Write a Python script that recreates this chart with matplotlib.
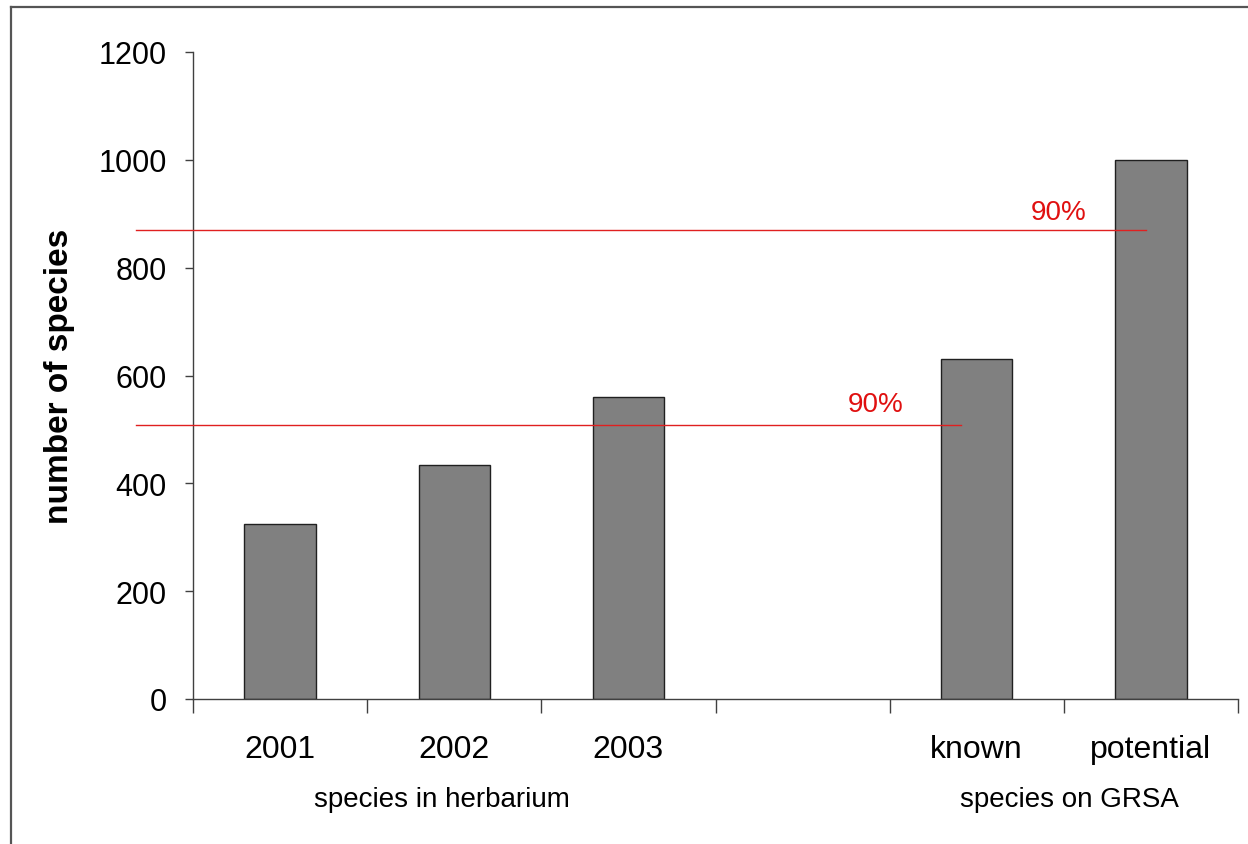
import numpy as np
import matplotlib
matplotlib.use('Agg')
import matplotlib.pyplot as plt
from matplotlib.lines import Line2D

plt.rcParams['font.family'] = ['Liberation Sans', 'DejaVu Sans']

# 数据
categories = ['2001', '2002', '2003', '', 'known', 'potential']
values = [325, 434, 560, np.nan, 630, 1000]
group_labels = ['species in herbarium', 'species on GRSA']
group_centers = [0.93, 4.53]
# 90% 参考线: (高度, 终点x, 文字x, 文字y)
ref_lines = [(508, 3.91, 3.42, 547), (870, 4.97, 4.47, 903)]
ref_text = '90%'

fig = plt.figure(figsize=(12.48, 8.45), dpi=100)
ax = fig.add_axes([193 / 1248, 1 - 700 / 845, 1045 / 1248, 647 / 845])

x = np.arange(len(categories))
ax.bar(x, values, width=0.41, color='#808080', edgecolor='#202020', linewidth=1.0, zorder=2)

# 红线从y轴左边一点开始
for y, x_end, tx, ty in ref_lines:
    ax.plot([-0.83, x_end], [y, y], color='#e02020', linewidth=1.0, zorder=3, clip_on=False)
    ax.text(tx, ty, ref_text, color='#e01010', fontsize=20, ha='center', va='center')

ax.set_xlim(-0.5, 5.5)
ax.set_ylim(0, 1200)
ax.set_yticks(range(0, 1201, 200))
ax.tick_params(axis='y', labelsize=22, length=6, width=1, color='#404040', pad=13)

ax.set_xticks(np.arange(-0.5, 5.6, 1))
ax.set_xticklabels([])
ax.tick_params(axis='x', which='major', length=10, width=1, color='#404040')
ax.set_xticks(x, minor=True)
ax.set_xticklabels(categories, minor=True)
ax.tick_params(axis='x', which='minor', length=0, labelsize=23, pad=25)

for s in ['top', 'right']:
    ax.spines[s].set_visible(False)
for s in ['left', 'bottom']:
    ax.spines[s].set_color('#404040')
    ax.spines[s].set_linewidth(1)

ax.set_ylabel('number of species', fontsize=24, fontweight='bold')
ax.yaxis.set_label_coords(-(193 - 75) / 1045, 0.5)

for lab, cx in zip(group_labels, group_centers):
    ax.annotate(lab, xy=(cx, 0), xycoords=('data', 'axes fraction'),
                xytext=(0, -100), textcoords='offset pixels',
                ha='center', va='center', fontsize=20)

# 外框(只有左边和上边)
fig.add_artist(Line2D([11 / 1248, 11 / 1248], [0, 1 - 8 / 845], transform=fig.transFigure,
                      color='#555555', linewidth=1.6))
fig.add_artist(Line2D([11 / 1248, 1], [1 - 8 / 845, 1 - 8 / 845], transform=fig.transFigure,
                      color='#555555', linewidth=1.6))

fig.savefig('out.png', dpi=100)
